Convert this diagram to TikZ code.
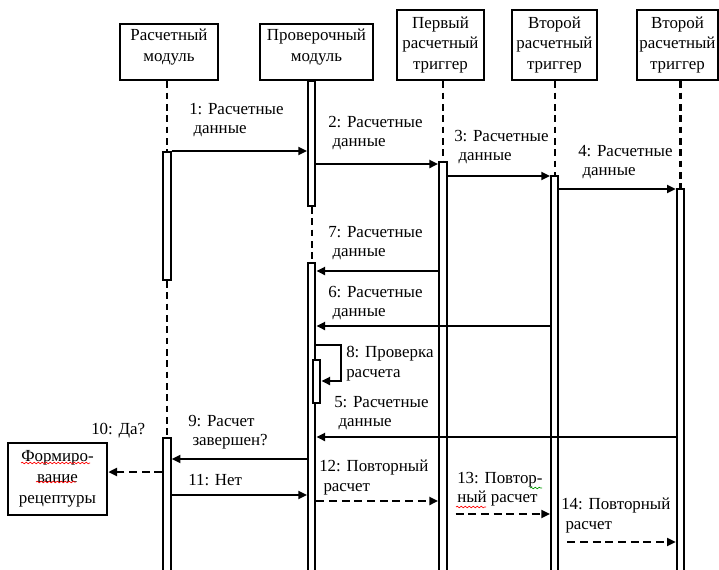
\documentclass[tikz,border=0pt]{standalone}
\usepackage{fontspec}
\setmainfont{Liberation Serif}
\usetikzlibrary{arrows.meta,decorations.pathmorphing}

\begin{document}
\begin{tikzpicture}[x=0.75pt,y=-0.75pt,
    font=\fontsize{12.7}{14.6}\selectfont,
    obj/.style={draw, line width=2pt, fill=white, align=center, inner sep=1pt,
      font=\fontsize{12.7}{15.6}\selectfont},
    bar/.style={draw, line width=1.5pt, fill=white, minimum width=5.6pt, inner sep=0pt, anchor=north},
    life/.style={line width=1.7pt, dash pattern=on 5pt off 3.5pt},
    msg/.style={line width=1.5pt, -{Triangle[length=6.5pt,width=6pt]}},
    ret/.style={msg, dash pattern=on 6pt off 3.5pt},
    lbl/.style={anchor=north west, align=left, inner sep=0pt},
    spell/.style={decorate, decoration={snake, amplitude=0.6pt, segment length=3pt}, line width=0.5pt}]
  \useasboundingbox (0,0) rectangle (719,569);
  \clip (0,0) rectangle (719,569);
  % objects
  \node[obj, minimum width=73.5pt, minimum height=42pt] (rm) at (169,52) {Расчетный\\модуль\rule[-10pt]{0pt}{0pt}};
  \node[obj, minimum width=84.75pt, minimum height=42pt] (pm) at (316.5,52) {Проверочный\\модуль\rule[-10pt]{0pt}{0pt}};
  \node[obj, minimum width=65.25pt, minimum height=52.5pt] (t1) at (440.5,45) {Первый\\расчетный\\триггер};
  \node[obj, minimum width=63.75pt, minimum height=52.5pt] (t2) at (554.5,45) {Второй\\расчетный\\триггер};
  \node[obj, minimum width=60.75pt, minimum height=52.5pt] (t3) at (677.5,45) {Второй\\расчетный\\триггер};
  \node[obj, minimum width=74.25pt, minimum height=54pt] (form) at (57.5,479) {Формиро-\\вание\\рецептуры\rule[-3pt]{0pt}{0pt}};
  % activations
  \node[bar, minimum height=96pt] (rm1) at (167,151) {};
  \node[bar, minimum height=106pt] (rm2) at (167,437) {};
  \node[bar, minimum height=93.75pt] (pm1) at (311.7,80) {};
  \node[bar, minimum height=236pt] (pm2) at (311.7,262) {};
  \node[bar, minimum height=32.25pt] (pm3) at (316.7,359) {};
  \node[bar, minimum height=312pt] (t1a) at (442.8,161) {};
  \node[bar, minimum height=302pt] (t2a) at (554.7,175) {};
  \node[bar, minimum height=292pt] (t3a) at (680.5,188) {};
  % lifelines
  \draw[life] (rm.south -| rm1) -- (rm1.north);
  \draw[life] (rm1.south) -- (rm2.north);
  \draw[life] (pm1.south) -- (pm2.north);
  \draw[life] (t1.south -| t1a) -- (t1a.north);
  \draw[life] (t2.south -| t2a) -- (t2a.north);
  \draw[life] (t3.south -| t3a) -- (t3a.north);
  % messages
  \foreach \a/\b/\y in {rm1.east/pm1.west/151, pm1.east/t1a.west/164, t1a.east/t2a.west/176,
      t2a.east/t3a.west/189, t1a.west/pm2.east/271, t2a.west/pm2.east/326,
      t3a.west/pm2.east/437, pm2.west/rm2.east/459, rm2.east/pm2.west/495}
    \draw[msg] (\a |- 0,\y) -- (\b |- 0,\y);
  \draw[msg] (pm2.east |- 0,345) -| (341,381) -- (pm3.east |- 0,381);
  \draw[ret] (rm2.west |- 0,472) -- (form.east |- 0,472);
  \draw[ret] (pm2.east |- 0,501) -- (t1a.west |- 0,501);
  \draw[ret] ([xshift=6pt]t1a.east |- 0,514) -- (t2a.west |- 0,514);
  \draw[ret] ([xshift=6pt]t2a.east |- 0,542) -- (t3a.west |- 0,542);
  % labels
  \node[lbl] (n1) at (189,103) {1: Расчетные\\\ данные};
  \node[lbl] (n2) at (328,116) {2: Расчетные\\\ данные};
  \node[lbl] (n3) at (454,130) {3: Расчетные\\\ данные};
  \node[lbl] (n4) at (578,145) {4: Расчетные\\\ данные};
  \node[lbl] (n7) at (328,226) {7: Расчетные\\\ данные};
  \node[lbl] (n6) at (328,286) {6: Расчетные\\\ данные};
  \node[lbl] (n8) at (346,346) {8: Проверка\\расчета};
  \node[lbl] (n5) at (334,396) {5: Расчетные\\\ данные};
  \node[lbl] (n9) at (188,415) {9: Расчет\\\ завершен?};
  \node[lbl] (n10) at (91,423) {10: Да?};
  \node[lbl] (n11) at (188,474) {11: Нет};
  \node[lbl] (n12) at (319,460) {12: Повторный\\\ расчет};
  \node[lbl] (n13) at (457,472) {13: Повтор-\\ный расчет};
  \node[lbl] (n14) at (561,498) {14: Повторный\\\ расчет};
  % spelling marks
  \draw[spell, red] (21,463) -- (90,463);
  \draw[spell, red] (36,482) -- (76,482);
  \draw[spell, red] (456,507) -- (486,507);
  \draw[spell, green!60!black] (530,488) -- (542,488);
\end{tikzpicture}
\end{document}
